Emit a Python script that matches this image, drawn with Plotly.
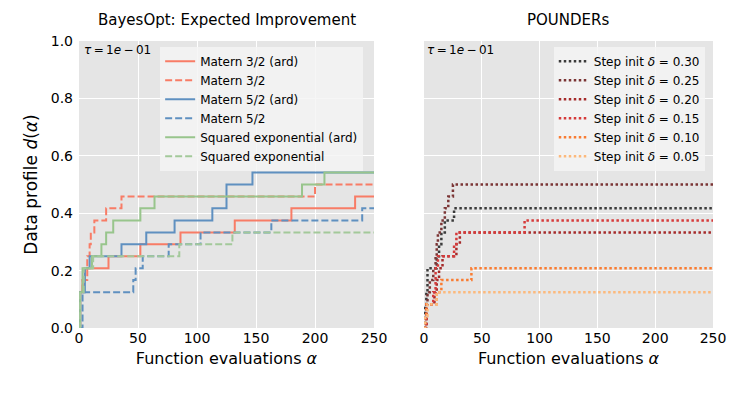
import plotly.graph_objects as go

# ---- data ----
evals_max = 250

# BayesOpt: Expected Improvement
m32_ard_x = [0, 1, 3, 5, 25, 52, 86, 132, 180, 234, 250]
m32_ard_y = [0, 0.125, 0.167, 0.208, 0.25, 0.292, 0.333, 0.375, 0.417, 0.458, 0.458]
m32_x = [0, 1, 3, 7, 9, 10, 13, 23, 36, 200, 250]
m32_y = [0, 0.125, 0.167, 0.25, 0.292, 0.333, 0.375, 0.417, 0.458, 0.5, 0.5]
m52_ard_x = [0, 1, 5, 9, 36, 57, 81, 113, 125, 147, 250]
m52_ard_y = [0, 0.125, 0.208, 0.25, 0.292, 0.333, 0.375, 0.417, 0.5, 0.542, 0.542]
m52_x = [0, 3, 46, 48, 54, 76, 103, 163, 240, 250]
m52_y = [0, 0.125, 0.167, 0.208, 0.25, 0.292, 0.333, 0.375, 0.417, 0.417]
se_ard_x = [0, 1, 3, 11, 19, 23, 29, 52, 64, 189, 208, 250]
se_ard_y = [0, 0.125, 0.208, 0.25, 0.292, 0.333, 0.375, 0.417, 0.458, 0.5, 0.542, 0.542]
se_x = [0, 1, 4, 12, 85, 130, 250]
se_y = [0, 0.125, 0.208, 0.25, 0.292, 0.333, 0.333]

# POUNDERs
d30_x = [0, 1, 2, 3, 11, 13, 15, 18, 22, 26, 250]
d30_y = [0, 0.083, 0.125, 0.208, 0.25, 0.292, 0.333, 0.375, 0.375, 0.417, 0.417]
d25_x = [0, 2, 3, 5, 8, 10, 11, 12, 15, 18, 21, 25, 250]
d25_y = [0, 0.083, 0.125, 0.167, 0.208, 0.25, 0.292, 0.333, 0.375, 0.417, 0.458, 0.5, 0.5]
d20_x = [0, 2, 9, 11, 13, 16, 28, 31, 250]
d20_y = [0, 0.083, 0.125, 0.167, 0.208, 0.25, 0.292, 0.333, 0.333]
d15_x = [0, 2, 8, 10, 12, 26, 28, 87, 250]
d15_y = [0, 0.083, 0.125, 0.208, 0.25, 0.292, 0.333, 0.375, 0.375]
d10_x = [0, 1, 2, 11, 15, 41, 250]
d10_y = [0, 0.042, 0.083, 0.125, 0.167, 0.208, 0.208]
d05_x = [0, 1, 3, 11, 250]
d05_y = [0, 0.042, 0.083, 0.125, 0.125]

tau_label = '<i>τ</i>\u2009=\u20091<i>e</i>\u2009−\u200901'

left_series = [
    ('Matern 3/2 (ard)', m32_ard_x, m32_ard_y, '#f87c66', 'solid'),
    ('Matern 3/2', m32_x, m32_y, '#f87c66', '7px,3px'),
    ('Matern 5/2 (ard)', m52_ard_x, m52_ard_y, '#5f90c0', 'solid'),
    ('Matern 5/2', m52_x, m52_y, '#5f90c0', '7px,3px'),
    ('Squared exponential (ard)', se_ard_x, se_ard_y, '#98c58c', 'solid'),
    ('Squared exponential', se_x, se_y, '#a3c99a', '7px,3px'),
]
right_series = [
    ('0.30', d30_x, d30_y, '#3b3b3b'),
    ('0.25', d25_x, d25_y, '#7b3535'),
    ('0.20', d20_x, d20_y, '#a52a2a'),
    ('0.15', d15_x, d15_y, '#d63a3a'),
    ('0.10', d10_x, d10_y, '#f97c32'),
    ('0.05', d05_x, d05_y, '#fcb97c'),
]

fig = go.Figure()

for name, xs, ys, col, dash in left_series:
    fig.add_trace(go.Scatter(x=xs, y=ys, name=name, mode='lines', line_shape='hv',
                             line=dict(color=col, width=2, dash=dash),
                             xaxis='x', yaxis='y', legend='legend'))

for delta, xs, ys, col in right_series:
    fig.add_trace(go.Scatter(x=xs, y=ys, name=f'Step init <i>δ</i> = {delta}', mode='lines',
                             line_shape='hv', line=dict(color=col, width=2.5, dash='2.5px,2.5px'),
                             xaxis='x2', yaxis='y2', legend='legend2'))

axis_common = dict(range=[0, evals_max], tickvals=[0, 50, 100, 150, 200, 250],
                   showgrid=True, gridcolor='white', gridwidth=1.3, zeroline=False,
                   showline=False, ticks='', tickfont=dict(size=14, color='black'),
                   title=dict(text='Function evaluations <i>α</i>', font=dict(size=16, color='black'),
                              standoff=7))

# the page body has an 8px margin, so the margins are shifted by that much
fig.update_layout(
    width=747, height=394,
    paper_bgcolor='white', plot_bgcolor='#e5e5e5',
    font=dict(family='DejaVu Sans', color='black'),
    margin=dict(l=71, r=42, t=33, b=74),
    xaxis=dict(domain=[0, 0.4653], anchor='y', **axis_common),
    xaxis2=dict(domain=[0.5442, 1], anchor='y2', **axis_common),
    yaxis=dict(range=[0, 1], tickvals=[0, 0.2, 0.4, 0.6, 0.8, 1.0], tickformat='.1f',
               showgrid=True, gridcolor='white', gridwidth=1.3, zeroline=False, ticks='',
               ticklabelstandoff=5, tickfont=dict(size=14, color='black'),
               title=dict(text='Data profile <i>d</i>(<i>α</i>)', font=dict(size=17, color='black'),
                          standoff=8)),
    yaxis2=dict(range=[0, 1], anchor='x2', tickvals=[0, 0.2, 0.4, 0.6, 0.8, 1.0],
                showticklabels=False, showgrid=True, gridcolor='white', gridwidth=1.3,
                zeroline=False, ticks=''),
    legend=dict(x=0.128, y=0.98, xanchor='left', yanchor='top',
                bgcolor='rgba(245,245,245,0.85)', borderwidth=0,
                font=dict(size=12), itemwidth=30, tracegroupgap=0),
    legend2=dict(x=0.987, y=0.98, xanchor='right', yanchor='top',
                 bgcolor='rgba(245,245,245,0.85)', borderwidth=0,
                 font=dict(size=12), itemwidth=30, tracegroupgap=0),
    showlegend=True,
    annotations=[
        dict(text='BayesOpt: Expected Improvement', x=0.2327, y=1.0, xref='paper', yref='paper',
             xanchor='center', yanchor='bottom', yshift=10, showarrow=False, font=dict(size=15)),
        dict(text='POUNDERs', x=0.7721, y=1.0, xref='paper', yref='paper',
             xanchor='center', yanchor='bottom', yshift=10, showarrow=False, font=dict(size=15)),
        dict(text=tau_label, x=0.004, y=1.0, xref='paper', yref='paper',
             xanchor='left', yanchor='top', showarrow=False, font=dict(size=12)),
        dict(text=tau_label, x=0.546, y=1.0, xref='paper', yref='paper',
             xanchor='left', yanchor='top', showarrow=False, font=dict(size=12)),
    ],
)

fig.write_html("out.html")
